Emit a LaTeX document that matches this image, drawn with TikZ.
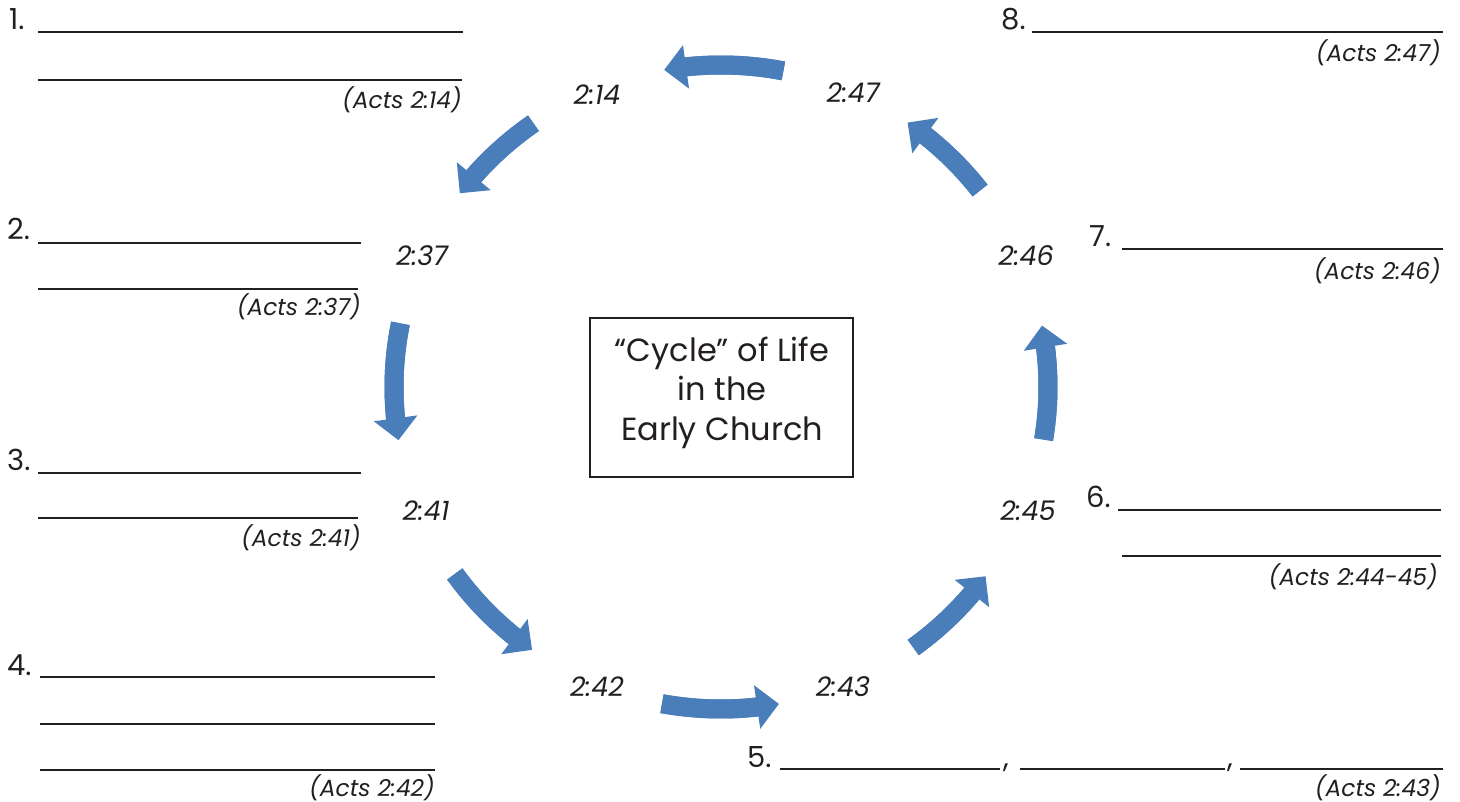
\documentclass[tikz,border=0pt]{standalone}
\usepackage{fontspec}
\setmainfont{Poppins}
\usetikzlibrary{arrows.meta,bending,calc}
\definecolor{arr}{HTML}{4A7EBB}
\definecolor{ink}{HTML}{231F20}
\newcommand\cycarr[2]{%
  \draw[cyc] ($(C)+(#1:327 and 322)$) arc[start angle=#1, end angle=#2, x radius=327, y radius=322];
  \pgfmathsetmacro\cycback{#2+2.6}%
  \draw[draw=arr, line width=19pt] ($(C)+(#1:327 and 322)$) arc[start angle=#1, end angle=\cycback, x radius=327, y radius=322];
}
\begin{document}
\begin{tikzpicture}[x=1pt,y=-1pt,
  num/.style={anchor=base west, font=\fontsize{29}{30}\selectfont, text=ink, inner sep=0pt},
  ref/.style={anchor=base east, font=\fontsize{23.4}{28}\selectfont\itshape, text=ink, inner sep=0pt},
  verse/.style={font=\fontsize{27}{28}\selectfont\itshape, text=ink, inner sep=0pt},
  blank/.style={draw=ink, line width=1.2pt},
  cyc/.style={draw=arr, line width=19pt, -{Triangle[width=44pt,length=22pt,line width=0pt]}},
  ttl/.style={anchor=base, font=\fontsize{32}{36}\selectfont, text=ink, inner sep=0pt}
]
\useasboundingbox (0,0) rectangle (1460,802);
\fill[white] (0,0) rectangle (1460,802);

% central box
\node[draw=ink, line width=1.6pt, minimum width=263pt, minimum height=159pt, inner sep=0pt] (box) at (721.5,397.5) {};
\node[ttl] (t1) at (722,362) {“Cycle” of Life};
\node[ttl] (t2) at (722,401) {in the};
\node[ttl] (t3) at (722,440) {Early Church};

% cycle arrows
\coordinate (C) at (721,387);
\cycarr{-79}{-100}
\cycarr{-125}{-143}
\cycarr{-168.6}{-189.5}
\cycarr{-215.5}{-234.7}
\cycarr{-259.6}{-280.2}
\cycarr{-306}{-324}
\cycarr{-350.6}{-371}
\cycarr{-37.6}{-55.2}

% verse labels
\node[verse] (v214) at (597,95) {2:14};
\node[verse] (v247) at (853,93) {2:47};
\node[verse] (v237) at (422,256) {2:37};
\node[verse] (v246) at (1026,256) {2:46};
\node[verse] (v241) at (426,511) {2:41};
\node[verse] (v245) at (1028,511) {2:45};
\node[verse] (v242) at (597,687) {2:42};
\node[verse] (v243) at (843,687) {2:43};

% item 1
\node[num] (n1) at (9,30) {1.};
\draw[blank] (38,32) -- (463,32);
\draw[blank] (38,80) -- (462,80);
\node[ref] (r1) at (462,109) {(Acts 2:14)};
% item 2
\node[num] (n2) at (7,240) {2.};
\draw[blank] (38,243) -- (361,243);
\draw[blank] (38,289) -- (358,289);
\node[ref] (r2) at (361,316) {(Acts 2:37)};
% item 3
\node[num] (n3) at (7,470) {3.};
\draw[blank] (38,473) -- (361,473);
\draw[blank] (38,518) -- (358,518);
\node[ref] (r3) at (361,546) {(Acts 2:41)};
% item 4
\node[num] (n4) at (7,675) {4.};
\draw[blank] (40,677) -- (435,677);
\draw[blank] (40,724) -- (435,724);
\draw[blank] (40,770) -- (435,770);
\node[ref] (r4) at (435,796) {(Acts 2:42)};
% item 5
\node[num] (n5) at (747,767) {5.};
\draw[blank] (780,769) -- (1000,769);
\node[num,anchor=base] (c51) at (1006,767) {,};
\draw[blank] (1020,769) -- (1225,769);
\node[num,anchor=base] (c52) at (1230,767) {,};
\draw[blank] (1240,769) -- (1443,769);
\node[ref] (r5) at (1441,796) {(Acts 2:43)};
% item 6
\node[num] (n6) at (1086,507) {6.};
\draw[blank] (1118,510) -- (1441,510);
\draw[blank] (1122,556) -- (1441,556);
\node[ref] (r6) at (1438,585) {(Acts 2:44-45)};
% item 7
\node[num] (n7) at (1089,247) {7.};
\draw[blank] (1122,249) -- (1443,249);
\node[ref] (r7) at (1441,280) {(Acts 2:46)};
% item 8
\node[num] (n8) at (1001,30) {8.};
\draw[blank] (1032,32) -- (1443,32);
\node[ref] (r8) at (1441,62) {(Acts 2:47)};
\end{tikzpicture}
\end{document}
